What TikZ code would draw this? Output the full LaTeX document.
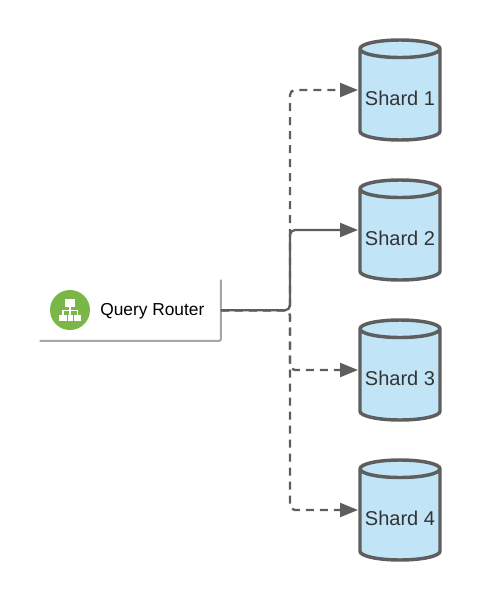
\documentclass[tikz,border=0pt]{standalone}
\usepackage{fontspec}
\setmainfont{Liberation Sans}
\usepackage{tikz}
\usetikzlibrary{positioning,arrows.meta,shapes.geometric}
\definecolor{edgegray}{HTML}{5E5E5E}
\definecolor{shardblue}{HTML}{C1E4F7}
\definecolor{routergreen}{HTML}{7AB648}

\begin{document}
\begin{tikzpicture}[
    x=0.75pt, y=-0.75pt,
    shard/.style={cylinder, shape border rotate=90, aspect=0.25, draw=edgegray, line width=2.6pt,
                  cylinder uses custom fill, cylinder body fill=shardblue, cylinder end fill=shardblue,
                  minimum width=60pt, minimum height=75pt, inner sep=0pt, outer sep=0pt, anchor=shape center,
                  text height=15.3pt, text depth=0pt,
                  font=\fontsize{15}{18}\selectfont, text=black!80},
    card/.style={fill=white, minimum width=135.5pt, minimum height=45.5pt, inner sep=0pt},
    cardedge/.style={draw=black!35, line width=1.6pt, rounded corners=1.5pt},
    flow/.style={draw=edgegray, line width=1.7pt, rounded corners=3.75pt,
                 -{Triangle[length=13.5pt, width=10.5pt]}, shorten >=1.5pt},
    dashflow/.style={flow, dash pattern=on 6pt off 4.5pt},
    iconpart/.style={fill=white, draw=none}
  ]
    \useasboundingbox (0,0) rectangle (480,600);

    \node[shard] (shard1) at (400,90) {Shard 1};
    \node[shard] (shard2) at (400,230) {Shard 2};
    \node[shard] (shard3) at (400,370) {Shard 3};
    \node[shard] (shard4) at (400,510) {Shard 4};

    \node[card] (router) at (130.3,310.3) {};
    \draw[cardedge] (router.north east) -- (router.south east) -- (router.south west);
    \node[circle, fill=routergreen, minimum size=30pt, inner sep=0pt] (icon) at (70,310) {};
    \node[anchor=west, font=\fontsize{13}{15}\selectfont, inner sep=0pt] (routerlabel) at (100,311.5) {Query Router};

    % hierarchy glyph on the green disc
    \fill[iconpart] (64.7,299.3) rectangle (75.3,306.7);
    \fill[iconpart] (69.3,306) rectangle (70.7,311);
    \fill[iconpart] (62.3,310) rectangle (77.7,311.2);
    \fill[iconpart] (62.3,310) rectangle (63.5,315);
    \fill[iconpart] (76.5,310) rectangle (77.7,315);
    \fill[iconpart] (69.3,310) rectangle (70.7,315);
    \fill[iconpart] (58.8,315) rectangle (66.5,320.7);
    \fill[iconpart] (67.5,315) rectangle (72.5,320.7);
    \fill[iconpart] (73.5,315) rectangle (81.2,320.7);

    \coordinate (bus) at (290,310.3);
    \draw[dashflow] (router.east) -- (bus) |- (shard1.west |- shard1.shape center);
    \draw[dashflow] (router.east) -- (bus) |- (shard3.west |- shard3.shape center);
    \draw[dashflow] (router.east) -- (bus) |- (shard4.west |- shard4.shape center);
    \draw[flow] (router.east) -- (bus) |- (shard2.west |- shard2.shape center);
\end{tikzpicture}
\end{document}
